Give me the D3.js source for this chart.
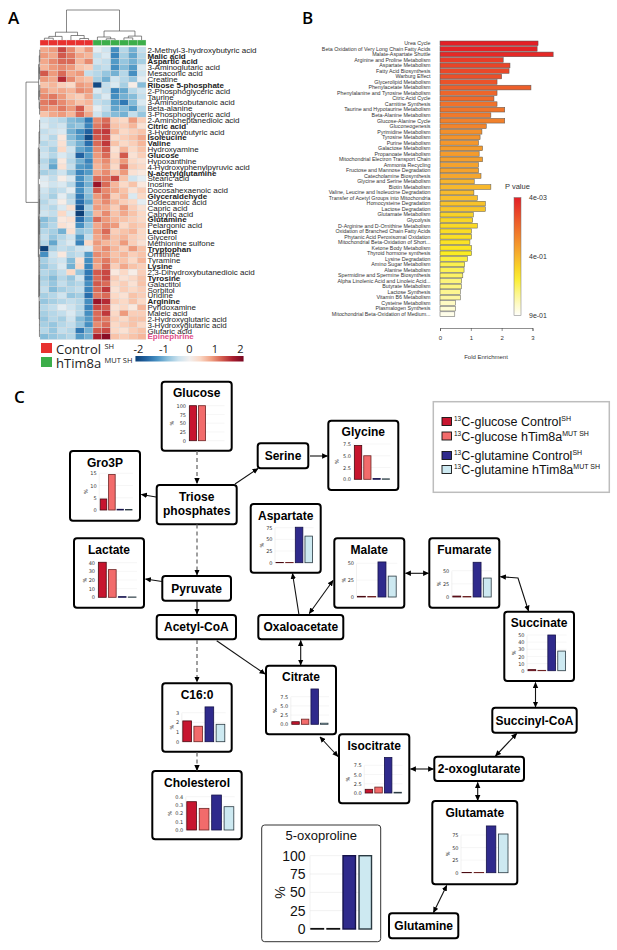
<!DOCTYPE html>
<html lang="en">
<head>
<meta charset="UTF-8">
<title>Metabolomics figure</title>
<style>
  body { margin: 0; background: #fff; }
  svg { display: block; font-family: "Liberation Sans", Arial, sans-serif; }
  .plab { font-family: "Open Sans", sans-serif; font-weight: 600; font-size: 17px; }
  .node { font-weight: bold; font-size: 12px; }
  .mini text { font-family: "DejaVu Sans", sans-serif; font-size: 5px; fill: #333; }
</style>
</head>
<body>
<svg id="fig" width="617" height="950"></svg>
<script src="https://cdn.jsdelivr.net/npm/d3@7"></script>
<script>
// ================= Panel A data =================
var metabolites = ["2-Methyl-3-hydroxybutyric acid","Malic acid","Aspartic acid","3-Aminoglutaric acid","Mesaconic acid",
  "Creatine","Ribose 5-phosphate","2-Phosphoglyceric acid","Taurine","3-Aminoisobutanoic acid","Beta-alanine",
  "3-Phosphoglyceric acid","2-Aminoheptanedioic acid","Citric acid","3-Hydroxybutyric acid","Isoleucine","Valine",
  "Hydroxyamine","Glucose","Hypoxanthine","4-Hydroxyphenylpyruvic acid","N-acetylglutamine","Stearic acid","Inosine",
  "Docosahexaenoic acid","Glyceraldehyde","Dodecanoic acid","Capric acid","Caprylic acid","Glutamine","Pelargonic acid",
  "Leucine","Glycerol","Methionine sulfone","Tryptophan","Ornithine","Tyramine","Lysine","2,3-Dihydroxybutanedioic acid",
  "Tyrosine","Galactitol","Sorbitol","Uridine","Arginine","Pyridoxamine","Maleic acid","2-Hydroxyglutaric acid",
  "3-Hydroxyglutaric acid","Glutaric acid","Epinephrine"];
var boldMetabolites = ["Malic acid","Aspartic acid","Ribose 5-phosphate","Citric acid","Isoleucine","Valine","Glucose",
  "N-acetylglutamine","Glyceraldehyde","Glutamine","Leucine","Tryptophan","Lysine","Tyrosine","Arginine","Epinephrine"];
var highlighted = ["Epinephrine"];
var sampleGroups = ["Control","Control","Control","Control","Control","Control",
  "hTim8a","hTim8a","hTim8a","hTim8a","hTim8a","hTim8a"];
// z-scores, one row per metabolite, columns = samples
var heatValues = [
  [0.8,0.9,1.4,1.0,0.6,0.9,-0.2,-0.4,-1.3,-0.6,-1.0,-0.5],
  [0.9,0.8,1.3,1.1,0.8,0.7,-0.5,-0.3,-1.4,-0.7,-1.1,-0.6],
  [0.8,1.0,1.2,1.2,0.7,1.0,-0.4,-0.5,-1.2,-0.8,-1.0,-0.7],
  [0.7,0.9,1.0,0.9,0.6,0.5,-0.6,-0.5,-1.3,-0.9,-1.2,-0.3],
  [1.3,0.9,1.2,0.8,0.9,-0.5,-0.6,-0.8,-1.0,-0.6,-1.3,-0.4],
  [0.9,0.8,1.6,1.0,0.7,0.6,-0.7,-1.0,-0.4,-0.6,-0.8,-0.2],
  [0.6,0.7,0.5,0.4,0.9,0.8,-1.9,-0.5,-0.3,-0.7,0.1,-0.9],
  [0.9,0.7,0.8,0.7,1.0,0.9,-0.3,-0.5,-1.4,-1.1,-0.6,-0.4],
  [1.0,1.1,0.9,0.6,0.5,0.8,-0.6,-0.3,-1.3,-1.0,-0.9,-0.5],
  [1.1,1.2,1.0,0.8,0.6,0.7,-0.5,-0.6,-1.2,-1.5,-0.9,-0.3],
  [1.0,0.9,1.1,0.9,1.3,0.6,-0.2,-0.5,-1.1,-0.9,-1.2,-0.6],
  [0.6,0.8,0.9,0.7,1.2,0.8,-0.4,-0.7,-0.9,-1.0,-0.5,-0.8],
  [-0.4,-0.5,-0.6,-0.9,-1.0,-1.5,1.0,1.2,0.5,0.4,0.9,0.5],
  [-0.3,-0.5,-0.4,-0.9,-0.8,-1.4,1.1,1.3,0.6,0.5,0.7,0.3],
  [-0.5,-0.4,-0.3,-1.0,-1.3,-1.7,1.4,1.5,0.7,0.4,0.5,0.6],
  [-0.4,-0.6,0.2,-0.9,-1.2,-1.9,1.3,1.4,0.4,0.5,0.6,0.8],
  [-0.6,-0.5,0.3,-0.7,-1.0,-1.6,1.2,1.5,0.6,0.4,0.5,0.7],
  [-0.5,-0.7,0.4,-0.4,-1.1,-1.3,1.0,1.3,0.3,0.7,0.4,0.6],
  [-0.4,-0.6,-0.3,-0.5,-1.7,-1.2,0.9,1.2,0.4,1.3,0.3,0.5],
  [-0.6,-0.9,0.2,-0.6,-1.0,-1.4,0.8,1.0,0.5,0.9,0.4,0.3],
  [-0.5,-1.1,0.3,-0.5,-1.2,-1.3,0.7,0.9,0.4,1.2,0.5,0.4],
  [-0.7,-0.6,-0.4,-0.8,-1.4,-1.2,0.8,1.0,0.6,0.9,0.3,0.2],
  [-0.3,-0.5,0.1,-0.3,-1.3,-0.9,1.2,1.1,1.4,0.6,-0.4,-0.2],
  [-0.2,-0.4,-0.3,-0.6,-1.4,-1.0,1.8,1.2,0.7,0.4,0.6,0.2],
  [-0.4,-0.6,-0.5,-0.2,-1.3,-0.8,1.3,1.0,0.8,0.6,0.3,0.5],
  [-0.5,-0.7,-0.2,-0.6,-1.5,-0.9,0.9,1.1,0.5,0.7,-0.3,0.4],
  [-0.6,-0.4,0.1,-0.5,-1.6,-1.1,0.8,1.0,0.7,0.5,0.4,-0.2],
  [-0.5,-0.6,-0.3,0.3,-1.8,-0.7,0.9,0.8,0.5,0.9,0.5,0.3],
  [-0.4,-0.5,0.4,-0.3,-2.3,-0.9,0.7,1.0,0.6,0.8,0.6,0.4],
  [-0.9,-0.7,0.2,0.3,-1.6,-1.0,1.2,0.9,0.7,0.6,0.5,0.4],
  [-0.8,-0.6,0.3,0.2,-1.3,-0.8,0.8,1.0,0.9,0.4,0.6,0.5],
  [-0.6,-0.7,-1.0,0.3,-0.8,-0.7,0.9,1.2,0.5,0.6,0.7,0.4],
  [-0.5,-0.8,-0.6,-0.4,-1.2,-0.5,0.8,1.0,0.6,0.7,0.5,0.4],
  [-0.6,-1.1,-0.5,-0.3,-1.4,0.4,0.9,0.7,0.6,0.9,0.5,0.3],
  [-2.4,-0.7,-0.5,-0.6,-0.4,-0.3,0.8,1.0,0.7,0.5,0.9,0.6],
  [-1.3,-0.4,0.2,-0.6,-0.5,-1.2,1.0,0.9,0.6,0.7,0.5,0.6],
  [-0.7,-0.5,-0.4,-0.9,0.3,-1.3,0.9,1.1,0.7,0.6,0.4,0.7],
  [-0.8,-0.6,-0.3,-1.0,0.4,-1.4,0.8,1.2,0.5,0.8,0.6,0.5],
  [-0.6,-0.7,-0.5,0.4,-0.8,-1.5,1.3,1.4,0.2,0.4,0.1,0.5],
  [-0.7,-0.9,-0.6,-0.8,-0.4,-1.5,1.2,1.4,0.5,0.3,0.4,0.6],
  [-0.6,-0.8,-0.5,-0.7,-0.6,-1.3,1.3,1.2,0.4,0.5,0.3,0.6],
  [-0.5,-0.9,-0.7,-0.6,-0.5,-1.4,1.2,1.5,0.3,0.5,0.4,0.5],
  [-0.7,-0.6,-0.4,-0.8,-0.7,-1.6,1.1,1.2,0.4,0.3,0.6,0.5],
  [-0.8,-0.7,-0.6,-0.5,-0.6,-1.3,1.8,1.6,0.5,0.4,0.6,0.4],
  [-0.6,-0.5,-0.2,-0.4,-0.6,-1.4,1.4,1.3,0.3,0.4,0.2,0.7],
  [-0.7,-0.6,-0.5,-0.3,-0.6,-1.3,1.2,1.5,0.4,0.9,0.5,0.5],
  [-0.8,-0.6,-0.7,-0.4,-0.9,-1.2,1.2,1.1,0.5,0.4,0.6,0.6],
  [-0.7,-0.8,-0.6,-0.5,-0.8,-1.3,1.0,1.2,0.4,0.5,0.6,0.4],
  [-0.6,-0.8,-0.5,-0.6,-1.5,-1.0,1.3,1.4,0.4,0.3,0.5,0.6],
  [-0.9,-0.8,-0.7,-0.6,-1.2,-1.0,1.7,1.9,0.6,0.5,0.6,0.7]
];
var keyTicks = [-2, -1, 0, 1, 2];
// dendrograms: [height, child, child, ...], leaves are indices
var colTree = [1.0, [0.26,[0.12,[0.06,0,1],2],[0.15,3,[0.05,4,5]]], [0.3,[0.1,6,[0.04,7,8]],[0.13,[0.07,9,10],11]]];
var rowTree = [1.0,
  [0.1,[0.05,[0.02,0,1,2],[0.03,3,4,5]],[0.06,[0.02,6,7,8],[0.03,9,10,11]]],
  [0.12,[0.07,[0.03,12,13,14,15,16],[0.04,17,18,19,20,21,22]],
        [0.09,[0.05,[0.03,23,24,25,26,27,28],[0.02,29,30,31,32,33,34]],
              [0.06,[0.03,35,36,37,38,39,40,41,42],[0.04,43,44,45,46,47,48,49]]]]];

// ================= Panel B data =================
var pathways = ["Urea Cycle","Beta Oxidation of Very Long Chain Fatty Acids","Malate-Aspartate Shuttle",
  "Arginine and Proline Metabolism","Aspartate Metabolism","Fatty Acid Biosynthesis","Warburg Effect",
  "Glycerolipid Metabolism","Phenylacetate Metabolism","Phenylalanine and Tyrosine Metabolism","Citric Acid Cycle",
  "Carnitine Synthesis","Taurine and Hypotaurine Metabolism","Beta-Alanine Metabolism","Glucose-Alanine Cycle",
  "Gluconeogenesis","Pyrimidine Metabolism","Tyrosine Metabolism","Purine Metabolism","Galactose Metabolism",
  "Propanoate Metabolism","Mitochondrial Electron Transport Chain","Ammonia Recycling",
  "Fructose and Mannose Degradation","Catecholamine Biosynthesis","Glycine and Serine Metabolism","Biotin Metabolism",
  "Valine, Leucine and Isoleucine Degradation","Transfer of Acetyl Groups into Mitochondria",
  "Homocysteine Degradation","Lactose Degradation","Glutamate Metabolism","Glycolysis",
  "D-Arginine and D-Ornithine Metabolism","Oxidation of Branched Chain Fatty Acids",
  "Phytanic Acid Peroxisomal Oxidation","Mitochondrial Beta-Oxidation of Short...","Ketone Body Metabolism",
  "Thyroid hormone synthesis","Lysine Degradation","Amino Sugar Metabolism","Alanine Metabolism",
  "Spermidine and Spermine Biosynthesis","Alpha Linolenic Acid and Linoleic Acid...","Butyrate Metabolism",
  "Lactose Synthesis","Vitamin B6 Metabolism","Cysteine Metabolism","Plasmalogen Synthesis",
  "Mitochondrial Beta-Oxidation of Medium..."];
var foldEnrichment = [3.18,3.15,3.67,2.05,2.27,2.24,2.0,1.85,2.95,1.85,1.75,1.85,2.1,1.65,2.1,1.5,
  1.36,1.3,1.25,1.38,1.27,1.38,1.25,1.25,1.33,1.11,1.65,1.1,1.21,1.47,1.47,1.08,1.06,1.21,1.02,1.02,0.97,
  1.02,1.02,0.89,0.8,0.78,0.74,0.7,0.69,0.66,0.66,0.5,0.5,0.48];
var pValues = [0.004,0.012,0.03,0.08,0.1,0.11,0.13,0.14,0.17,0.19,0.2,0.22,0.23,0.24,0.26,0.27,0.3,0.31,0.32,
  0.33,0.33,0.34,0.35,0.35,0.36,0.4,0.41,0.42,0.43,0.44,0.45,0.49,0.5,0.51,0.52,0.53,0.54,0.55,0.57,0.61,0.63,
  0.64,0.66,0.69,0.7,0.72,0.74,0.8,0.83,0.87];
var foldTicks = [0, 1, 2, 3];
var pTicks = [0.004, 0.4, 0.9];
var pTickLabels = ["4e-03", "4e-01", "9e-01"];

// ================= Panel C data =================
var tracers = ["glucose Control", "glucose hTim8a", "glutamine Control", "glutamine hTim8a"];
var tracerSup = ["SH", "MUT SH", "SH", "MUT SH"];
// % labelled, order = tracers
var labelling = {
  "Glucose":      [100, 100, 0, 0],
  "Gro3P":        [4.5, 14.5, 0.3, 0.2],
  "Glycine":      [7.2, 5.0, 0.15, 0.1],
  "Lactate":      [40.5, 32, 0.8, 0.4],
  "Aspartate":    [0.3, 0.3, 76, 57],
  "Malate":       [1.0, 0.8, 52, 31],
  "Fumarate":     [1.8, 1.0, 66, 36],
  "Succinate":    [1.5, 0.5, 50, 27.5],
  "Citrate":      [0.7, 1.4, 9.6, 0.3],
  "Isocitrate":   [1.0, 1.6, 9.6, 0.2],
  "C16:0":        [2.15, 1.6, 3.6, 1.8],
  "Cholesterol":  [0.34, 0.26, 0.42, 0.28],
  "Glutamate":    [0.3, 0.3, 93, 77],
  "5-oxoproline": [0.5, 0.5, 100, 100]
};
var chartTicks = {
  "Glucose": [0,25,50,75,100], "Gro3P": [0,5,10,15], "Glycine": [0,2.5,5,7.5], "Lactate": [0,10,20,30,40],
  "Aspartate": [0,25,50,75], "Malate": [0,25,50], "Fumarate": [0,25,50], "Succinate": [0,10,20,30,40,50],
  "Citrate": [0,2.5,5,7.5], "Isocitrate": [0,2.5,5,7.5], "C16:0": [0,1,2,3], "Cholesterol": [0,0.1,0.2,0.3,0.4],
  "Glutamate": [0,25,50,75], "5-oxoproline": [0,25,50,75,100]
};

// ================= layout (positions only) =================
var nodeBox = {
  "Glucose": [161.7,381.7,70,69], "Gro3P": [70,451,70,69.7], "Triose phosphates": [156.7,485,80,39.3],
  "Serine": [257.7,443.3,50.6,25], "Glycine": [328.3,420.7,70,69.3], "Aspartate": [250.7,504,70,68.7],
  "Lactate": [74,538.3,70,69.4], "Malate": [334.3,538.3,70,69.4], "Fumarate": [429.3,538.3,70,69.4],
  "Pyruvate": [162.3,576,68.7,24.7], "Acetyl-CoA": [156.7,615,79.3,24.3], "Oxaloacetate": [258.3,615,85,24.3],
  "Succinate": [504.3,611.7,69.7,69.3], "Citrate": [266,665.7,70,68.6], "C16:0": [162.3,683.3,69.4,68.4],
  "Succinyl-CoA": [492.3,707.7,84.4,25], "Isocitrate": [339,734.3,70.3,69], "2-oxoglutarate": [434.3,756.7,89.7,24.3],
  "Cholesterol": [152.3,771,89.4,68.3], "Glutamate": [432.3,801,85,83.3], "Glutamine": [389,913.3,69.3,25]
};
// plot area of each mini chart: [left, right, zeroY, topTickY]
var chartArea = {
  "Glucose": [189.5,223.5,440.7,405.7], "Gro3P": [100.2,132,510,473.3], "Glycine": [354.5,389.5,479.3,444],
  "Lactate": [98.5,136,597.3,562.7], "Aspartate": [276,312.5,562.7,527.7], "Malate": [357.5,396.2,597,563.3],
  "Fumarate": [452.8,491.2,597,570.7], "Succinate": [528,565.5,670.7,635], "Citrate": [291.8,328,724.3,696.7],
  "Isocitrate": [365.2,401.5,793,765.3], "C16:0": [182.8,224.8,741.7,712.7], "Cholesterol": [186.8,233.8,830,796.7],
  "Glutamate": [462,508,872.7,835], "5-oxoproline": [311,371.5,929,855.7]
};
var arrows = [
  {p:[[197,451],[197,483.5]], dash:true}, {p:[[156,497],[141.5,494.5]]}, {p:[[235,484],[258,468.5]]},
  {p:[[310,456],[327.5,456]]}, {p:[[197,524.5],[197,575]], dash:true}, {p:[[162,581.5],[145.5,579]]},
  {p:[[197,601],[197,614]]}, {p:[[197,640],[197,682]], dash:true}, {p:[[216.7,640.7],[265,674]]},
  {p:[[299,615],[292.5,573.5]]}, {p:[[309.3,613.5],[333,580.5]], two:true}, {p:[[300.7,640.5],[300.7,665]], two:true},
  {p:[[405.5,573.3],[428.5,573.3]], two:true}, {p:[[500.5,576.7],[518,578],[528.5,611]], two:true},
  {p:[[535.5,682.5],[535.5,707]], two:true}, {p:[[516.7,733.5],[495.5,756]], two:true},
  {p:[[320,737],[338,756.5]], two:true}, {p:[[410.5,769],[433.5,769]], two:true},
  {p:[[477.7,782.5],[477.7,800.5]], two:true}, {p:[[446.7,885.5],[433.5,912.5]], two:true},
  {p:[[197,752.5],[197,770.5]], dash:true}
];

var tracerFill = ["#c7152f", "#f26b6b", "#2f2a8c", "#cde9f1"];
var tracerStroke = ["#4a0a12", "#6e2424", "#15124a", "#2a3a42"];

// ================= drawing =================
var svg = d3.select("#fig");
var defs = svg.append("defs");

// ---------- Panel A ----------
svg.append("text").attr("class", "plab").attr("x", 8).attr("y", 24).text("A");

var hmX = d3.scaleBand().domain(d3.range(12)).range([40, 146]);
var hmY = d3.scaleBand().domain(d3.range(metabolites.length)).range([47, 339.5]);
var heatColor = function(v) { return d3.interpolateRdBu(Math.max(0.02, Math.min(0.97, 0.5 - v / 4.2))); };

var rows = svg.append("g").selectAll("g").data(heatValues).enter().append("g");
rows.selectAll("rect").data(function(d, i) { return d.map(function(v, j) { return {v: v, i: i, j: j}; }); })
  .enter().append("rect")
  .attr("x", function(d) { return hmX(d.j); })
  .attr("y", function(d) { return hmY(d.i); })
  .attr("width", hmX.bandwidth())
  .attr("height", hmY.bandwidth())
  .attr("fill", function(d) { return heatColor(d.v); })
  .attr("stroke", "#d9d9d9").attr("stroke-width", 0.3);

var groupColor = {"Control": "#e8312f", "hTim8a": "#3cae4a"};
svg.append("g").selectAll("rect").data(sampleGroups).enter().append("rect")
  .attr("x", function(d, j) { return hmX(j); }).attr("y", 40)
  .attr("width", hmX.bandwidth()).attr("height", 5.5)
  .attr("fill", function(d) { return groupColor[d]; })
  .attr("stroke", "#e6e6e6").attr("stroke-width", 0.3);

svg.append("g").selectAll("text").data(metabolites).enter().append("text")
  .attr("x", 147.5)
  .attr("y", function(d, i) { return hmY(i) + hmY.bandwidth() / 2 + 2.8; })
  .attr("font-size", 8)
  .attr("font-weight", function(d) { return boldMetabolites.indexOf(d) >= 0 ? "bold" : "normal"; })
  .attr("fill", function(d) { return highlighted.indexOf(d) >= 0 ? "#e0508a" : "#222"; })
  .text(function(d) { return d; });

// dendrogram helper: returns {pos, h}
function drawTree(g, node, leafPos, hPos, vertical) {
  if (typeof node === "number") return {pos: leafPos(node), h: 0};
  var kids = node.slice(1).map(function(c) { return drawTree(g, c, leafPos, hPos, vertical); });
  var h = node[0];
  var a = kids[0].pos, b = kids[kids.length - 1].pos;
  var seg = function(p1, h1, p2, h2) {
    if (vertical) g.append("line").attr("x1", p1).attr("y1", hPos(h1)).attr("x2", p2).attr("y2", hPos(h2));
    else g.append("line").attr("y1", p1).attr("x1", hPos(h1)).attr("y2", p2).attr("x2", hPos(h2));
  };
  kids.forEach(function(k) { seg(k.pos, k.h, k.pos, h); });
  seg(a, h, b, h);
  return {pos: (a + b) / 2, h: h};
}
var colDend = svg.append("g").attr("stroke", "#555").attr("stroke-width", 0.7);
drawTree(colDend, colTree, function(j) { return hmX(j) + hmX.bandwidth() / 2; },
  d3.scaleLinear().domain([0, 1]).range([40, 10]), true);
var rowDend = svg.append("g").attr("stroke", "#555").attr("stroke-width", 0.7);
drawTree(rowDend, rowTree, function(i) { return hmY(i) + hmY.bandwidth() / 2; },
  d3.scaleLinear().domain([0, 1]).range([40, 26]), false);

// legend A
var legA = [{name: "Control", sup: "SH", col: groupColor["Control"]}, {name: "hTim8a", sup: "MUT SH", col: groupColor["hTim8a"]}];
legA.forEach(function(d, i) {
  svg.append("rect").attr("x", 41).attr("y", 343 + i * 14).attr("width", 11).attr("height", 10).attr("fill", d.col);
  var t = svg.append("text").attr("x", 56).attr("y", 353.5 + i * 14).attr("font-size", 13)
    .attr("font-family", "Open Sans, sans-serif").attr("fill", "#222");
  t.append("tspan").text(d.name + " ");
  t.append("tspan").attr("font-size", 7.5).attr("dy", -5).text(d.sup);
});
// colour key
var keyX = d3.scaleLinear().domain([-2, 2]).range([138.5, 240.5]);
var kg = defs.append("linearGradient").attr("id", "keygrad");
d3.range(11).forEach(function(k) {
  var v = -2.12 + k * 4.24 / 10;
  kg.append("stop").attr("offset", (k * 10) + "%").attr("stop-color", heatColor(v));
});
svg.append("rect").attr("x", keyX(-2.12)).attr("y", 356).attr("width", keyX(2.12) - keyX(-2.12)).attr("height", 5.5)
  .attr("fill", "url(#keygrad)");
svg.append("g").selectAll("text").data(keyTicks).enter().append("text")
  .attr("x", function(d) { return keyX(d); }).attr("y", 353).attr("text-anchor", "middle")
  .attr("font-size", 11).attr("font-family", "Open Sans, sans-serif").attr("fill", "#222")
  .text(function(d) { return d; });

// ---------- Panel B ----------
svg.append("text").attr("class", "plab").attr("x", 302).attr("y", 24).text("B");
var bY = d3.scaleBand().domain(pathways).range([41, 316.5]).paddingInner(0.15);
var bX = d3.scaleLinear().domain([0, 3]).range([440, 532.5]);
var tScale = d3.scaleLinear().domain([0.004, 0.4, 0.9]).range([0, 0.5, 1]);
var pCol = d3.scaleLinear().domain([0, 0.25, 0.5, 0.67, 0.85, 1])
  .range(["#e31f26", "#ef6b2b", "#f7b52d", "#fbec22", "#fdf8a6", "#fffffa"]);
svg.append("g").selectAll("text").data(pathways).enter().append("text")
  .attr("x", 430.5).attr("y", function(d) { return bY(d) + bY.bandwidth() / 2 + 1.8; })
  .attr("text-anchor", "end").attr("font-size", 5.3).attr("fill", "#333").text(function(d) { return d; });
svg.append("g").selectAll("rect").data(pathways).enter().append("rect")
  .attr("x", bX(0)).attr("y", function(d) { return bY(d); })
  .attr("width", function(d, i) { return bX(foldEnrichment[i]) - bX(0); })
  .attr("height", bY.bandwidth())
  .attr("fill", function(d, i) { return pCol(tScale(pValues[i])); })
  .attr("stroke", "#555").attr("stroke-width", 0.5);
var bAxis = svg.append("g").attr("transform", "translate(0,328)")
  .call(d3.axisBottom(bX).tickValues(foldTicks).tickSize(3).tickPadding(5).tickFormat(d3.format("d")));
bAxis.selectAll("text").attr("font-size", 6).attr("fill", "#333");
bAxis.selectAll("line, path").attr("stroke", "#444").attr("stroke-width", 0.6);
svg.append("text").attr("x", 486).attr("y", 359).attr("text-anchor", "middle").attr("font-size", 6)
  .attr("fill", "#333").text("Fold Enrichment");
// p-value key
var pY = d3.scaleLinear().domain(pTicks).range([197.5, 256.5, 315.5]);
var pg = defs.append("linearGradient").attr("id", "pgrad").attr("x1", 0).attr("x2", 0).attr("y1", 0).attr("y2", 1);
d3.range(11).forEach(function(k) { pg.append("stop").attr("offset", (k * 10) + "%").attr("stop-color", pCol(k / 10)); });
svg.append("rect").attr("x", 514).attr("y", pY(0.004)).attr("width", 7).attr("height", pY(0.9) - pY(0.004))
  .attr("fill", "url(#pgrad)").attr("stroke", "#777").attr("stroke-width", 0.5);
svg.append("text").attr("x", 505).attr("y", 189).attr("font-size", 7.5).attr("fill", "#333").text("P value");
svg.append("g").selectAll("text").data(pTicks).enter().append("text")
  .attr("x", 529).attr("y", function(d) { return pY(d) + 2.5; }).attr("font-size", 7).attr("fill", "#333")
  .text(function(d, i) { return pTickLabels[i]; });

// ---------- Panel C ----------
svg.append("text").attr("class", "plab").attr("x", 14).attr("y", 403).text("C");

defs.append("marker").attr("id", "ah").attr("viewBox", "0 0 10 10").attr("refX", 9).attr("refY", 5)
  .attr("markerWidth", 6).attr("markerHeight", 6).attr("markerUnits", "userSpaceOnUse")
  .attr("orient", "auto-start-reverse")
  .append("path").attr("d", "M0,0.5 L10,5 L0,9.5 z").attr("fill", "#000");

// boxes
Object.keys(nodeBox).forEach(function(name) {
  var b = nodeBox[name];
  svg.append("rect").attr("x", b[0]).attr("y", b[1]).attr("width", b[2]).attr("height", b[3]).attr("rx", 3)
    .attr("fill", "#fff").attr("stroke", "#000").attr("stroke-width", 2);
  var cx = b[0] + b[2] / 2;
  if (labelling[name]) {
    svg.append("text").attr("class", "node").attr("x", cx).attr("y", b[1] + 15.5).attr("text-anchor", "middle").text(name);
  } else if (name === "Triose phosphates") {
    svg.append("text").attr("class", "node").attr("x", cx).attr("y", b[1] + 15.5).attr("text-anchor", "middle").text("Triose");
    svg.append("text").attr("class", "node").attr("x", cx).attr("y", b[1] + 29.5).attr("text-anchor", "middle").text("phosphates");
  } else {
    svg.append("text").attr("class", "node").attr("x", cx).attr("y", b[1] + b[3] / 2 + 4.3).attr("text-anchor", "middle").text(name);
  }
});

// 5-oxoproline panel (thin frame)
svg.append("rect").attr("x", 261.7).attr("y", 825).attr("width", 119).attr("height", 116.7).attr("rx", 3)
  .attr("fill", "#fff").attr("stroke", "#333").attr("stroke-width", 1);
svg.append("text").attr("x", 321.2).attr("y", 840).attr("text-anchor", "middle").attr("font-size", 13)
  .attr("fill", "#111").text("5-oxoproline");

// mini bar charts
Object.keys(labelling).forEach(function(name) {
  var a = chartArea[name], vals = labelling[name], ticks = chartTicks[name];
  var big = name === "5-oxoproline";
  var g = svg.append("g").attr("class", big ? "" : "mini");
  var x = d3.scaleBand().domain(d3.range(4)).range([a[0], a[1]]).paddingInner(0.22);
  var top = ticks[ticks.length - 1];
  var y = d3.scaleLinear().domain([0, top]).range([a[2], a[3]]);
  var dec = ticks.some(function(t) { return t % 1 !== 0; });
  var fmt = d3.format(dec ? ".1f" : "d");
  g.selectAll("line.grid").data(ticks).enter().append("line")
    .attr("x1", a[0] - 1).attr("x2", a[1] + 1)
    .attr("y1", function(d) { return y(d); }).attr("y2", function(d) { return y(d); })
    .attr("stroke", "#ededed").attr("stroke-width", big ? 0.8 : 0.5);
  var ax = g.append("g").attr("transform", "translate(" + (a[0] - 1.5) + ",0)")
    .call(d3.axisLeft(y).tickValues(ticks).tickSize(0).tickPadding(big ? 4 : 2).tickFormat(fmt));
  ax.select(".domain").attr("stroke", "#e2e2e2").attr("stroke-width", 0.5);
  ax.selectAll("text").attr("font-size", big ? 14 : 5).attr("fill", big ? "#111" : "#333")
    .attr("font-family", big ? "Liberation Sans, Arial, sans-serif" : "DejaVu Sans, sans-serif");
  var labW = d3.max(ticks, function(t) { return fmt(t).length; });
  var px = big ? a[0] - 36 : a[0] - 9.5 - labW * 3.2;
  g.append("text").attr("transform", "translate(" + px + "," + ((a[2] + a[3]) / 2) + ") rotate(90)")
    .attr("text-anchor", "middle").attr("font-size", big ? 14 : 5.5).attr("fill", "#222").text("%");
  g.selectAll("rect").data(vals).enter().append("rect")
    .attr("x", function(d, i) { return x(i); })
    .attr("y", function(d) { return y(d); })
    .attr("width", x.bandwidth())
    .attr("height", function(d) { return a[2] - y(d); })
    .attr("fill", function(d, i) { return tracerFill[i]; })
    .attr("stroke", function(d, i) { return big && i < 2 ? "#111" : tracerStroke[i]; })
    .attr("stroke-width", big ? 1.4 : 0.8);
});

// arrows
var line = d3.line();
arrows.forEach(function(d) {
  svg.append("path").attr("d", line(d.p)).attr("fill", "none")
    .attr("stroke", d.dash ? "#777" : "#111").attr("stroke-width", d.dash ? 1.4 : 1.1)
    .attr("stroke-dasharray", d.dash ? "4,3" : null)
    .attr("marker-end", "url(#ah)")
    .attr("marker-start", d.two ? "url(#ah)" : null);
});

// legend C
svg.append("rect").attr("x", 433.3).attr("y", 401.7).attr("width", 176).attr("height", 90.6)
  .attr("fill", "#fff").attr("stroke", "#bdbdbd").attr("stroke-width", 1.5);
var legY = [426, 440.5, 460, 474];
tracers.forEach(function(name, i) {
  svg.append("rect").attr("x", 442).attr("y", legY[i] - 8.5).attr("width", 9.5).attr("height", 8)
    .attr("fill", tracerFill[i]).attr("stroke", "#111").attr("stroke-width", 0.9);
  var t = svg.append("text").attr("x", 454).attr("y", legY[i]).attr("font-size", 12.5).attr("fill", "#111")
    .attr("font-family", "Liberation Sans, Arial, sans-serif");
  t.append("tspan").attr("font-size", 6.5).attr("dy", -5).text("13");
  t.append("tspan").attr("dy", 5).text("C-" + name);
  t.append("tspan").attr("font-size", 7).attr("dy", -5).text(tracerSup[i]);
});
</script>
</body>
</html>
